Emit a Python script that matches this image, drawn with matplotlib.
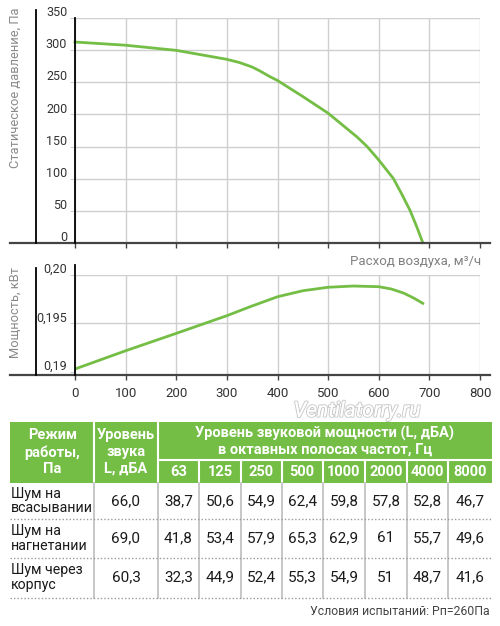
import matplotlib
matplotlib.use("Agg")
import matplotlib.pyplot as plt
import matplotlib.patheffects as pe
from matplotlib.lines import Line2D
from matplotlib.patches import Rectangle
from matplotlib.transforms import ScaledTranslation

# --- data ---
flow_p = [0, 100, 200, 300, 325, 350, 365, 385, 400, 450, 500, 557, 577, 600, 629, 646,
          662, 675, 687]
pressure = [313, 308, 300, 286, 281, 274, 268, 259, 253, 228, 202, 165, 150, 129, 100, 75,
            50, 25, 0]

flow_w = [0, 100, 200, 300, 346, 400, 450, 500, 550, 600, 625, 650, 670, 687]
power = [0.19027, 0.19216, 0.19396, 0.19579, 0.19672, 0.19775, 0.19837, 0.19873,
         0.19886, 0.19879, 0.19855, 0.19811, 0.19759, 0.19707]

x_ticks = [0, 100, 200, 300, 400, 500, 600, 700, 800]
p_ticks = [0, 50, 100, 150, 200, 250, 300, 350]
w_ticks = [0.19, 0.195, 0.20]
w_labels = ["0,19", "0,195", "0,20"]

freqs = ["63", "125", "250", "500", "1000", "2000", "4000", "8000"]
modes = ["Шум на\nвсасывании", "Шум на\nнагнетании", "Шум через\nкорпус"]
levels = ["66,0", "69,0", "60,3"]
bands = [
    ["38,7", "50,6", "54,9", "62,4", "59,8", "57,8", "52,8", "46,7"],
    ["41,8", "53,4", "57,9", "65,3", "62,9", "61", "55,7", "49,6"],
    ["32,3", "44,9", "52,4", "55,3", "54,9", "51", "48,7", "41,6"],
]

GREEN = "#74be45"
GRID = "#cfcfcf"
AXIS = "#444444"

plt.rcParams["font.family"] = ["Roboto", "DejaVu Sans"]

W, H = 500, 626
fig = plt.figure(figsize=(W / 100, H / 100), dpi=100)


def frac(x0, y0, x1, y1):
    # pixel box (top-left origin) -> figure fraction
    return [x0 / W, 1 - y1 / H, (x1 - x0) / W, (y1 - y0) / H]


def style_chart(ax, yticks, ylabels, ext_top, line_top):
    ax.set_xlim(0, 800)
    ax.set_xticks(x_ticks)
    for s in ["top", "right", "bottom", "left"]:
        ax.spines[s].set_visible(False)
    ax.grid(axis="x", color=GRID, lw=1)
    for yv in yticks[1:]:
        ax.axhline(yv, color=GRID, lw=1, zorder=0.5)
    ax.set_yticks(yticks)
    ax.set_yticklabels(ylabels)
    ax.tick_params(axis="y", length=3.6, color=GRID, labelsize=9,
                   labelcolor="#333333", pad=2)
    ax.tick_params(axis="x", length=3.6, width=1, color=AXIS, direction="out")
    off = ScaledTranslation(0, 5 / 72, fig.dpi_scale_trans)
    for lbl in ax.get_yticklabels():
        lbl.set_transform(lbl.get_transform() + off)
    # extended x axis, y axis and the extra left rule
    ax.add_line(Line2D([-0.16, 1.025], [0, 0], transform=ax.transAxes,
                       color=AXIS, lw=1.6, clip_on=False, zorder=5))
    ax.add_line(Line2D([0, 0], [0, ext_top], transform=ax.transAxes,
                       color="black", lw=1.3, clip_on=False, zorder=5))
    ax.add_line(Line2D([-0.0963, -0.0963], [0, line_top], transform=ax.transAxes,
                       color="black", lw=1.3, clip_on=False, zorder=5))


# --- pressure chart ---
ax1 = fig.add_axes(frac(75, 18.3, 480, 242.7))
ax1.plot(flow_p, pressure, color=GREEN, lw=2, zorder=3, clip_on=False)
ax1.set_ylim(0, 350)
style_chart(ax1, p_ticks, [str(v) for v in p_ticks], 1.0, 1.037)
ax1.set_xticklabels([])
fig.text(15 / W, 1 - 88 / H, "Статическое давление, Па", rotation=90,
         ha="center", va="center", color="#8a8a8a", fontsize=9.3)
fig.text(481 / W, 1 - 261 / H, "Расход воздуха, м³/ч", ha="right", va="center",
         color="#808080", fontsize=9.5)

# --- power chart ---
ax2 = fig.add_axes(frac(75, 275, 480, 375.3))
ax2.plot(flow_w, power, color=GREEN, lw=2, zorder=3)
ax2.set_ylim(0.18962, 0.20)
style_chart(ax2, w_ticks, w_labels, 1.1, 1.07)
ax2.set_xticklabels([str(v) for v in x_ticks])
ax2.tick_params(axis="x", labelsize=9.5, labelcolor="#333333", pad=4.6)
fig.text(15 / W, 1 - 312 / H, "Мощность, кВт", rotation=90,
         ha="center", va="center", color="#8a8a8a", fontsize=9.3)

wm = fig.text(357 / W, 1 - 411 / H, "Ventilatorry.ru", ha="center", va="center",
              fontsize=15, style="italic", color="white", zorder=10)
wm.set_path_effects([pe.withStroke(linewidth=1.6, foreground="#cccccc"), pe.Normal()])

# --- noise table ---
tb = fig.add_axes([0, 0, 1, 1])
tb.set_xlim(0, W)
tb.set_ylim(H, 0)
tb.axis("off")
tb.patch.set_alpha(0)

col_x = [10, 94.3, 157.7, 199.3, 240.7, 281.7, 322.7, 365, 406.7, 448.3, 491.7]
head_top, head_mid, head_bot = 421.7, 460, 482.7
row_y = [482.7, 519.3, 557.7, 597.7]

tb.add_patch(Rectangle((col_x[0], head_top), col_x[-1] - col_x[0], head_bot - head_top,
                       facecolor=GREEN, edgecolor="none"))
for xv in col_x[1:3]:
    tb.plot([xv, xv], [head_top, head_bot], color="white", lw=1.5)
tb.plot([col_x[2], col_x[-1]], [head_mid, head_mid], color="white", lw=1.5)
for xv in col_x[3:-1]:
    tb.plot([xv, xv], [head_mid, head_bot], color="white", lw=1.5)

hkw = dict(ha="center", va="center", color="white", fontweight="bold", fontsize=10.5)
tb.text((col_x[0] + col_x[1]) / 2, (head_top + head_bot) / 2, "Режим\nработы,\nПа",
        linespacing=1.25, **hkw)
tb.text((col_x[1] + col_x[2]) / 2, (head_top + head_bot) / 2, "Уровень\nзвука\nL, дБА",
        linespacing=1.25, **hkw)
tb.text((col_x[2] + col_x[-1]) / 2, (head_top + head_mid) / 2,
        "Уровень звуковой мощности (L, дБА)\nв октавных полосах частот, Гц",
        linespacing=1.15, **hkw)
for i, f in enumerate(freqs):
    tb.text((col_x[i + 2] + col_x[i + 3]) / 2, (head_mid + head_bot) / 2 + 0.5, f, **hkw)

for xv in col_x[1:-1]:
    tb.plot([xv, xv], [row_y[0], row_y[-1]], color="#bdbdbd", lw=1.2)
for yv in row_y[1:]:
    tb.plot([col_x[0], col_x[-1]], [yv, yv], color="#9a9a9a", lw=1, ls=(0, (1, 1.5)))

dkw = dict(va="center", color="#1a1a1a", fontsize=11)
for r in range(3):
    yc = (row_y[r] + row_y[r + 1]) / 2
    tb.text(11, yc, modes[r], ha="left", linespacing=1.05,
            va="center", color="#1a1a1a", fontsize=10.2)
    tb.text((col_x[1] + col_x[2]) / 2, yc, levels[r], ha="center", **dkw)
    for i, v in enumerate(bands[r]):
        tb.text((col_x[i + 2] + col_x[i + 3]) / 2, yc, v, ha="center", **dkw)

tb.text(490, 611.5, "Условия испытаний: Рп=260Па", ha="right", va="center",
        color="#444444", fontsize=8.8)

fig.savefig("out.png", dpi=100)
